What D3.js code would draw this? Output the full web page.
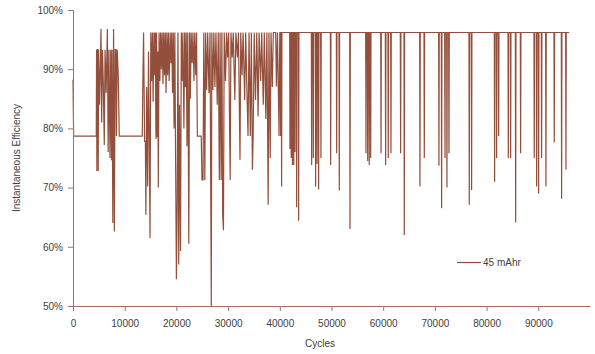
<!DOCTYPE html>
<html>
<head>
<meta charset="utf-8">
<script src="https://cdn.jsdelivr.net/npm/d3@7"></script>
<style>
  body { margin: 0; background: #fff; }
  svg { display: block; }
  text { font-family: "Liberation Sans", Arial, sans-serif; fill: #404040; }
</style>
</head>
<body>
<svg id="chart" width="595" height="354"></svg>
<script>
const xTicks = [0, 10000, 20000, 30000, 40000, 50000, 60000, 70000, 80000, 90000];
const yTicks = [50, 60, 70, 80, 90, 100];
const seriesName = '45 mAhr';

// [cycle, efficiency %]
const startRun = [
  [0, 88.2], [120, 78.7], [4500, 78.7], [4560, 93.3], [4620, 72.8], [4680, 93.3], [4800, 93.3],
  [4880, 72.8], [4950, 93.3], [5150, 84], [5420, 96.8], [5550, 81], [5700, 93.3], [5850, 88],
  [6050, 77.2], [6200, 93.3], [6400, 86], [6650, 96.8], [6800, 76], [6950, 93.3], [7150, 75],
  [7300, 93.3], [7450, 74.6], [7550, 93.3], [7700, 64], [7850, 96.8], [8000, 62.6], [8150, 93.3],
  [8300, 93.3], [8400, 78.7], [8550, 93.3], [8750, 89], [8950, 78.7], [13400, 78.7]
];

const denseRun = [
  [13500, 87], [13650, 96.2], [13850, 77.8], [14000, 77.8], [14100, 65.4], [14250, 87], [14450, 70.2],
  [14600, 93], [14750, 80], [14900, 61.5], [15050, 96.2], [15200, 88], [15350, 96.2], [15500, 84.5],
  [15650, 96.2], [15750, 89], [15900, 96.2], [16050, 78.2], [16150, 96.2], [16300, 78.5], [16400, 93],
  [16500, 70], [16650, 96.2], [16800, 88], [16950, 96.2], [17100, 90], [17250, 96.2], [17400, 87.5],
  [17550, 96.2], [17700, 89], [17850, 96.2], [18000, 86], [18150, 96.2], [18300, 89], [18450, 96.2],
  [18600, 88], [18800, 96.2], [18950, 91], [19100, 96.2], [19250, 86], [19400, 96.2], [19550, 80],
  [19700, 96.2], [19850, 74], [20000, 54.5], [20150, 67.2], [20300, 96.2], [20450, 57], [20600, 84],
  [20800, 59.3], [20950, 96.2], [21100, 88], [21250, 96.2], [21450, 80], [21600, 96.2], [21750, 87],
  [21900, 96.2], [22050, 77], [22200, 96.2], [22400, 60.5], [22550, 96.2], [22700, 85], [22850, 96.2],
  [23050, 91], [23200, 96.2], [23400, 88], [23550, 96.2], [23750, 89], [23900, 96.2], [24050, 78.7],
  [24800, 78.7], [24950, 71.3], [25150, 71.3], [25300, 96.2], [25500, 71.3], [25650, 96.2], [25850, 86.5],
  [26050, 96.2], [26300, 86], [26500, 96.2], [26750, 50], [26850, 96.2], [27050, 86.5], [27250, 96.2],
  [27450, 87], [27650, 96.2], [27900, 84], [28100, 96.2], [28300, 71.3], [28450, 96.2], [28650, 71.3],
  [28800, 96.2], [28950, 65.5], [29100, 62.8], [29250, 96.2], [29500, 88], [29700, 96.2], [29900, 92],
  [30100, 96.2], [30400, 71.3], [30550, 96.2], [30800, 92], [31000, 96.2], [31300, 84.8], [31500, 96.2],
  [31800, 92], [32000, 96.2], [32300, 74.7], [32450, 96.2], [32700, 89], [32900, 96.2], [33200, 84.8],
  [33400, 96.2], [33650, 86], [33850, 78.7], [34050, 96.2], [34300, 78.7], [34500, 96.2], [34700, 73],
  [34850, 78.7], [35050, 96.2], [35300, 84.8], [35550, 96.2], [35800, 82], [36000, 96.2], [36300, 88],
  [36500, 96.2], [36800, 84], [37000, 96.2], [37300, 81.6], [37500, 96.2], [37750, 67.1], [37900, 96.2],
  [38150, 75], [38300, 96.2], [38550, 87], [38750, 96.2], [39200, 96.2], [39350, 87.1], [39550, 96.2],
  [39850, 78.7], [40000, 96.2]
];

const spikeRun = [
  [40100, 96.2], [40160, 78.7], [40220, 96.2], [40290, 96.2], [40350, 70.2], [40410, 96.2],
  [41910, 96.2], [41970, 76.5], [42030, 96.2], [42140, 96.2], [42200, 75], [42260, 96.2],
  [42390, 96.2], [42450, 73.8], [42510, 96.2], [42640, 96.2], [42700, 73.8], [42760, 96.2],
  [42880, 96.2], [42940, 76], [43000, 96.2], [43200, 96.2], [43260, 66.7], [43320, 96.2],
  [43580, 96.2], [43640, 64.4], [43700, 96.2], [46100, 96.2], [46160, 73.8], [46220, 96.2],
  [46420, 96.2], [46480, 75], [46540, 96.2], [46870, 96.2], [46930, 70.2], [46990, 96.2],
  [47140, 96.2], [47200, 74], [47260, 96.2], [47450, 96.2], [47510, 69.7], [47570, 96.2],
  [47900, 96.2], [47960, 75], [48020, 96.2], [49780, 96.2], [49840, 73.8], [49900, 96.2],
  [50940, 96.2], [51000, 75.8], [51060, 96.2], [51450, 96.2], [51510, 69.5], [51570, 96.2],
  [53520, 96.2], [53580, 63], [53640, 96.2], [56610, 96.2], [56670, 75.8], [56730, 96.2],
  [56940, 96.2], [57000, 74.5], [57060, 96.2], [57240, 96.2], [57300, 73.8], [57360, 96.2],
  [57520, 96.2], [57580, 75], [57640, 96.2], [59520, 96.2], [59580, 75.8], [59640, 96.2],
  [60410, 96.2], [60470, 73.8], [60530, 96.2], [60920, 96.2], [60980, 75], [61040, 96.2],
  [61440, 96.2], [61500, 75.8], [61560, 96.2], [63310, 96.2], [63370, 75.8], [63430, 96.2],
  [64020, 96.2], [64080, 62], [64140, 96.2], [67050, 96.2], [67110, 70.2], [67170, 96.2],
  [67890, 96.2], [67950, 75], [68010, 96.2], [70720, 96.2], [70780, 73.7], [70840, 96.2],
  [71240, 96.2], [71300, 66.5], [71360, 96.2], [71890, 96.2], [71950, 75], [72010, 96.2],
  [72270, 96.2], [72330, 70], [72390, 96.2], [72660, 96.2], [72720, 75.8], [72780, 96.2],
  [76590, 96.2], [76650, 67.1], [76710, 96.2], [77040, 96.2], [77100, 69.6], [77160, 96.2],
  [81490, 96.2], [81550, 71], [81610, 96.2], [81880, 96.2], [81940, 75], [82000, 96.2],
  [82270, 96.2], [82330, 78.7], [82390, 96.2], [84140, 96.2], [84200, 75], [84260, 96.2],
  [84590, 96.2], [84650, 75], [84710, 96.2], [85560, 96.2], [85620, 64.1], [85680, 96.2],
  [86520, 96.2], [86580, 75.8], [86640, 96.2], [89160, 96.2], [89220, 75], [89280, 96.2],
  [89620, 96.2], [89680, 70.2], [89740, 96.2], [90000, 96.2], [90060, 69], [90120, 96.2],
  [90580, 96.2], [90640, 75], [90700, 96.2], [91420, 96.2], [91480, 70.2], [91540, 96.2],
  [93030, 96.2], [93090, 77.6], [93150, 96.2], [94450, 96.2], [94510, 68.1], [94570, 96.2],
  [95290, 96.2], [95350, 73], [95410, 96.2], [95990, 96.2]
];

const points = startRun.concat(denseRun, spikeRun);

const lineColor = '#934f3b';
const axisColor = '#a8705c';

const svg = d3.select('#chart');
const margin = { top: 10, right: 5, bottom: 48, left: 73 };
const width = 595 - margin.left - margin.right;
const height = 354 - margin.top - margin.bottom;
const g = svg.append('g').attr('transform', `translate(${margin.left},${margin.top})`);

const x = d3.scaleLinear().domain([0, 100000]).range([0, width]);
const y = d3.scaleLinear().domain([50, 100]).range([height, 0]);

const line = d3.line()
  .x(d => x(d[0]))
  .y(d => y(d[1]));

g.append('path')
  .datum(points)
  .attr('fill', 'none')
  .attr('stroke', lineColor)
  .attr('stroke-width', 1.2)
  .attr('stroke-linejoin', 'miter')
  .attr('d', line);

const yAxis = g.append('g')
  .call(d3.axisLeft(y).tickValues(yTicks).tickFormat(d => d + '%').tickSize(5).tickSizeOuter(0).tickPadding(5));

const xAxis = g.append('g')
  .attr('transform', `translate(0,${height})`)
  .call(d3.axisBottom(x).tickValues(xTicks).tickFormat(d3.format('d')).tickSize(5).tickSizeOuter(0).tickPadding(9));

[yAxis, xAxis].forEach(ax => {
  ax.select('.domain').attr('stroke', axisColor);
  ax.selectAll('.tick line').attr('stroke', axisColor);
  ax.selectAll('.tick text').attr('fill', '#404040').style('font-size', '10px')
    .style('font-family', '"Liberation Sans", Arial, sans-serif');
});

svg.append('text')
  .attr('x', 320)
  .attr('y', 347)
  .attr('text-anchor', 'middle')
  .style('font-size', '10px')
  .text('Cycles');

svg.append('text')
  .attr('transform', 'translate(20,158) rotate(-90)')
  .attr('text-anchor', 'middle')
  .style('font-size', '10px')
  .text('Instantaneous Efficiency');

// legend
const legend = svg.append('g').attr('transform', 'translate(457,262.5)');
legend.append('line')
  .attr('x1', 0).attr('x2', 24)
  .attr('stroke', lineColor)
  .attr('stroke-width', 1.2);
legend.append('text')
  .attr('x', 26)
  .attr('dy', '0.35em')
  .style('font-size', '10px')
  .text(seriesName);
</script>
</body>
</html>
